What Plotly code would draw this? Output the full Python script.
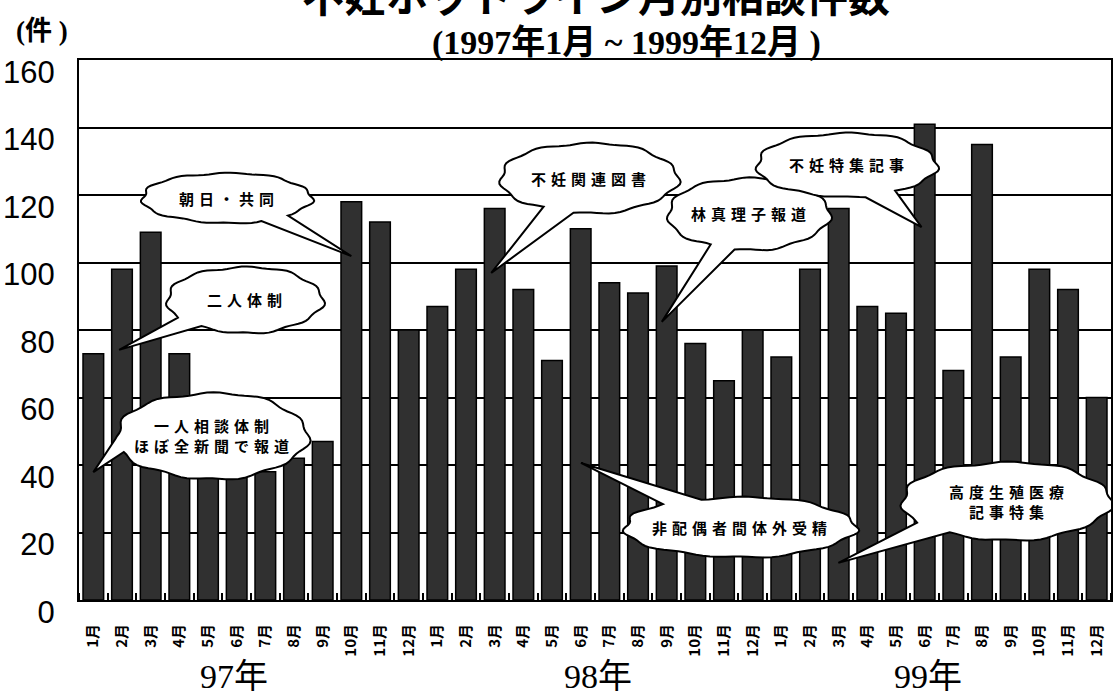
import math
import plotly.graph_objects as go

# ---- data -------------------------------------------------------------
months = [f"{m}月" for m in range(1, 13)] * 3
years = ["97年", "98年", "99年"]
counts = [
    73, 98, 109, 73, 38, 40, 38, 42, 47, 118, 112, 80,   # 1997
    87, 98, 116, 92, 71, 110, 94, 91, 99, 76, 65, 80,    # 1998
    72, 98, 116, 87, 85, 141, 68, 135, 72, 98, 92, 60,   # 1999
]
y_ticks = [0, 20, 40, 60, 80, 100, 120, 140, 160]

title_text = "不妊ホットライン月別相談件数"
subtitle_text = "(1997年1月 ~ 1999年12月 )"
unit_text = "(件 )"

# callouts: text lines, bubble centre (month index, count), tip (month index, count)
callouts = [
    (["朝日・共同"], (4.65, 119.1), (9.0, 101.9)),
    (["二人体制"], (5.28, 88.9), (0.9, 74.1)),
    (["一人相談体制", "ほぼ全新聞で報道"], (4.13, 48.6), (0.0, 37.9)),
    (["不妊関連図書"], (17.29, 125.0), (13.88, 96.9)),
    (["林真理子報道"], (22.86, 114.4), (19.83, 82.4)),
    (["不妊特集記事"], (26.27, 128.9), (28.89, 110.5)),
    (["非配偶者間体外受精"], (22.55, 21.6), (17.01, 40.6)),
    (["高度生殖医療", "記事特集"], (31.85, 29.3), (25.99, 11.0)),
]

# ---- layout geometry --------------------------------------------------
W, H = 1115, 695
ML, MR, MT, MB = 79, 2, 60, 95
PW, PH = W - ML - MR, H - MT - MB
N = len(counts)
PX_PER_CAT = PW / N
PX_PER_UNIT = PH / 160.0

# bubble sizes (semi-axes in px) and tail base angles (deg, screen coords)
bubble_style = [
    (85, 25, 44, 66),
    (78, 33, 125, 148),
    (96, 43, 158, 176),
    (89, 35, 100, 122),
    (81, 36, 100, 119),
    (90, 32, 56, 78),
    (116, 30, 229, 250),
    (105, 39, 124, 147),
]


def bubble_path(cx, cy, a, b, t1, t2, tip):
    """Ellipse outline with a pointed tail, in data coordinates."""
    pts = []
    start = t2
    end = t1 + 360
    steps = 90
    for k in range(steps + 1):
        t = math.radians(start + (end - start) * k / steps)
        wob = 1 + 0.025 * math.sin(11 * t) + 0.015 * math.sin(5 * t + 1)
        dx = a * wob * math.cos(t) / PX_PER_CAT
        dy = -b * wob * math.sin(t) / PX_PER_UNIT
        pts.append((cx + dx, cy + dy))
    pts.append(tip)
    d = "M " + " L ".join(f"{x:.4f},{y:.4f}" for x, y in pts) + " Z"
    return d


fig = go.Figure()

fig.add_trace(go.Bar(
    x=list(range(N)),
    y=counts,
    width=0.72,
    marker=dict(color="#303030", line=dict(color="black", width=1.5)),
    hoverinfo="skip",
))

shapes = []
annotations = []
SPACER = "\u2004"
for (lines, (cx, cy), tip), (a, b, t1, t2) in zip(callouts, bubble_style):
    shapes.append(dict(
        type="path", xref="x", yref="y",
        path=bubble_path(cx, cy, a, b, t1, t2, tip),
        fillcolor="white", line=dict(color="black", width=2),
        layer="above",
    ))
    text = "<br>".join(SPACER.join(line) for line in lines)
    annotations.append(dict(
        x=cx, y=cy, xref="x", yref="y", text=text, showarrow=False,
        font=dict(family="Noto Sans CJK JP", size=15, color="black", weight="bold"),
        align="center",
    ))


def px_x(px):
    return (px - ML) / PW


def px_y(py):
    return (H - MB - py) / PH


annotations.append(dict(
    x=px_x(597), y=px_y(-7), xref="paper", yref="paper", text=title_text,
    showarrow=False, xanchor="center", yanchor="middle",
    font=dict(family="Noto Sans CJK JP", size=42, color="black", weight="bold"),
))
annotations.append(dict(
    x=px_x(628), y=px_y(43), xref="paper", yref="paper", text=subtitle_text,
    showarrow=False, xanchor="center", yanchor="middle",
    font=dict(family="Liberation Serif, Noto Sans CJK JP", size=34, color="black", weight="bold"),
))
annotations.append(dict(
    x=px_x(42), y=px_y(31), xref="paper", yref="paper", text=unit_text,
    showarrow=False, xanchor="center", yanchor="middle",
    font=dict(family="Liberation Serif, Noto Sans CJK JP", size=27, color="black", weight="bold"),
))
for yr, xi in zip(years, [4.9, 17.6, 29.1]):
    annotations.append(dict(
        x=xi, y=px_y(676), xref="x", yref="paper", text=yr,
        showarrow=False, xanchor="center", yanchor="middle",
        font=dict(family="Liberation Serif, Noto Sans CJK JP", size=34, color="black"),
    ))

fig.update_layout(
    width=W, height=H,
    margin=dict(l=ML, r=MR, t=MT, b=MB, pad=0),
    paper_bgcolor="white", plot_bgcolor="white",
    showlegend=False,
    shapes=shapes,
    annotations=annotations,
    xaxis=dict(
        range=[-0.5, N - 0.5],
        tickmode="array", tickvals=list(range(N)), ticktext=months,
        tickangle=-90, ticks="",
        tickfont=dict(family="Noto Sans CJK JP", size=15, color="black", weight="bold"),
        ticklabelstandoff=16,
        showgrid=False, zeroline=False,
        showline=True, linecolor="black", linewidth=2, mirror=True,
        minor=dict(tickmode="linear", tick0=0.5, dtick=1, ticks="inside",
                   ticklen=7, tickcolor="black", tickwidth=1.5, showgrid=False),
    ),
    yaxis=dict(
        range=[0, 160],
        tickmode="array", tickvals=y_ticks,
        ticks="", showgrid=True, gridcolor="black", gridwidth=2,
        zeroline=False,
        showline=True, linecolor="black", linewidth=2, mirror=True,
        tickfont=dict(family="Liberation Sans", size=31, color="black"),
        ticklabelshift=12, ticklabelstandoff=16,
    ),
)

fig.write_html("out.html")
